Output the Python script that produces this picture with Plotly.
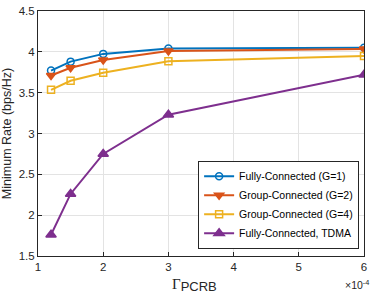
import plotly.graph_objects as go

x_vals = [1.2, 1.5, 2, 3, 6]
fully_g1 = [3.77, 3.88, 3.975, 4.04, 4.05]
group_g2 = [3.71, 3.805, 3.90, 4.01, 4.035]
group_g4 = [3.535, 3.645, 3.745, 3.885, 3.95]
fully_tdma = [1.76, 2.26, 2.75, 3.23, 3.72]
names = ["Fully-Connected (G=1)", "Group-Connected (G=2)", "Group-Connected (G=4)", "Fully-Connected, TDMA"]
colors = ["#0072BD", "#D95319", "#EDB120", "#7E2F8E"]
symbols = ["circle-open", "triangle-down", "square-open", "triangle-up"]
sizes = [7, 8, 7, 9]

fig = go.Figure()
for ys, n, c, s, sz in zip([fully_g1, group_g2, group_g4, fully_tdma], names, colors, symbols, sizes):
    fig.add_trace(go.Scatter(x=x_vals, y=ys, name=n, mode="lines+markers",
                             line=dict(color=c, width=2),
                             marker=dict(symbol=s, size=sz, color=c, line=dict(color=c, width=1.5))))

axis_common = dict(showgrid=True, gridcolor="#e3e3e3", gridwidth=1, showline=True, linecolor="#262626",
                   linewidth=1, mirror=True, ticks="inside", ticklen=4, tickcolor="#262626",
                   tickfont=dict(family="Liberation Sans", size=11.5, color="#262626"), zeroline=False)
fig.update_xaxes(range=[1, 6], tickvals=[1, 2, 3, 4, 5, 6], **axis_common)
fig.update_yaxes(range=[1.5, 4.5], tickvals=[1.5, 2, 2.5, 3, 3.5, 4, 4.5],
                 ticktext=["1.5", "2", "2.5", "3", "3.5", "4", "4.5"],
                 title=dict(text="Minimum Rate (bps/Hz)", font=dict(family="Liberation Sans", size=12.5, color="#262626"), standoff=5),
                 **axis_common)

fig.add_annotation(text="<span style='font-family:Liberation Serif;font-size:15px'>Γ</span><sub><span style='font-size:13px'>PCRB</span></sub>",
                   xref="paper", yref="paper", x=0.48, y=-0.075, yanchor="top", showarrow=False,
                   font=dict(family="Liberation Sans", size=11, color="#262626"))
fig.add_annotation(text="×10<sup>-4</sup>", xref="paper", yref="paper", x=1.02, y=-0.08, xanchor="right",
                   yanchor="top", showarrow=False, font=dict(family="Liberation Sans", size=10.5, color="#262626"))

fig.update_layout(width=372, height=297, margin=dict(l=38, r=5, t=6, b=41),
                  plot_bgcolor="white", paper_bgcolor="white",
                  legend=dict(x=0.985, y=0.03, xanchor="right", yanchor="bottom", bgcolor="white",
                              bordercolor="#262626", borderwidth=1,
                              font=dict(family="Liberation Sans", size=10.5, color="#000"),
                              itemwidth=30, tracegroupgap=0),
                  showlegend=True)
fig.write_html("out.html", config={"displayModeBar": False},
               post_script="document.body.style.margin='0';document.body.style.overflow='hidden';")
